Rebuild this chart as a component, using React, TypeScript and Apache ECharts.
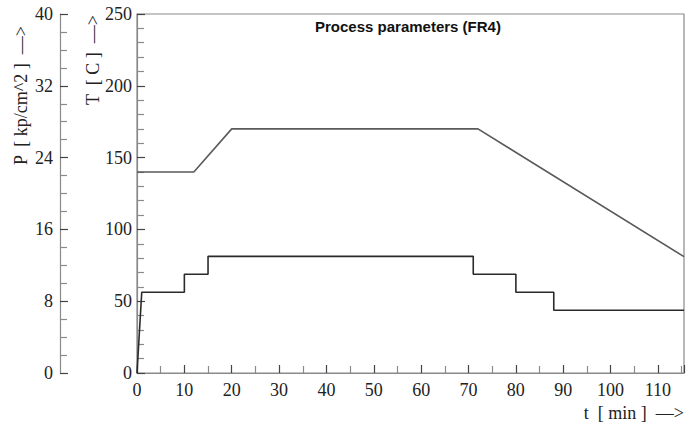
import React, { useEffect, useRef } from "react";
import * as echarts from "echarts";

// Temperature profile (T in C vs t in min)
const tempTime = [0, 12, 20, 72, 115.5];
const tempValues = [140, 140, 170, 170, 81];

// Pressure profile (P in kp/cm^2 vs t in min)
const presTime = [0, 1, 10, 10, 15, 15, 71, 71, 80, 80, 88, 88, 115.5];
const presValues = [0, 9, 9, 11, 11, 13, 13, 11, 11, 9, 9, 7, 7];

const xTickLabels = [0, 10, 20, 30, 40, 50, 60, 70, 80, 90, 100, 110];
const tempTickLabels = [0, 50, 100, 150, 200, 250];
const presTickLabels = [0, 8, 16, 24, 32, 40];

const title = "Process parameters (FR4)";
const xName = "t  [ min ]  \u2014>";
const tName = "T  [ C ]  \u2014>";
const pName = "P  [ kp/cm^2 ]  \u2014>";

const SERIF = "'Liberation Serif', 'DejaVu Serif', serif";
const SANS = "'Liberation Sans', Arial, sans-serif";

export default function App() {
  const ref = useRef<HTMLDivElement>(null);
  useEffect(() => {
    document.body.style.margin = "0";
    if (!ref.current) return;
    const chart = echarts.init(ref.current, undefined, { renderer: "svg" });
    const axisLine = { show: true, lineStyle: { color: "#8a8a8a", width: 1.2 } };
    const tick = { show: true, inside: true, length: 8, lineStyle: { color: "#444", width: 1.2 } };
    const minor = (n: number) => ({ show: true, splitNumber: n, length: 7, lineStyle: { color: "#8a8a8a", width: 1.2 } });
    const label = (set: number[]) => ({
      fontFamily: SERIF,
      fontSize: 18,
      color: "#222",
      formatter: (v: number) => (set.includes(v) ? String(v) : ""),
    });
    chart.setOption({
      animation: false,
      backgroundColor: "#fff",
      grid: {
        left: 137,
        top: 14,
        right: 8,
        bottom: 55,
        show: true,
        borderColor: "#8a8a8a",
        borderWidth: 1.2,
        backgroundColor: "transparent",
      },
      xAxis: {
        type: "value",
        min: 0,
        max: 115.5,
        interval: 10,
        axisLine,
        axisTick: tick,
        minorTick: minor(2),
        splitLine: { show: false },
        axisLabel: { ...label(xTickLabels), margin: 8, showMaxLabel: false },
      },
      yAxis: [
        {
          type: "value",
          position: "left",
          min: 0,
          max: 250,
          interval: 50,
          axisLine,
          axisTick: tick,
          minorTick: minor(5),
          splitLine: { show: false },
          axisLabel: { ...label(tempTickLabels), margin: 5 },
        },
        {
          type: "value",
          position: "left",
          offset: 77,
          min: 0,
          max: 40,
          interval: 8,
          axisLine,
          axisTick: tick,
          minorTick: minor(4),
          splitLine: { show: false },
          axisLabel: { ...label(presTickLabels), margin: 7 },
        },
      ],
      series: [
        {
          type: "line",
          name: "T",
          yAxisIndex: 0,
          data: tempTime.map((t, i) => [t, tempValues[i]]),
          showSymbol: false,
          lineStyle: { color: "#5a5a5a", width: 1.6 },
        },
        {
          type: "line",
          name: "P",
          yAxisIndex: 1,
          data: presTime.map((t, i) => [t, presValues[i]]),
          showSymbol: false,
          lineStyle: { color: "#2a2a2a", width: 1.6 },
        },
      ],
      graphic: [
        {
          type: "text",
          left: 315,
          top: 19,
          style: { text: title, font: `bold 15px ${SANS}`, fill: "#111" },
        },
        {
          type: "text",
          x: 684,
          y: 413,
          style: { text: xName, font: `18px ${SERIF}`, fill: "#222", align: "right", verticalAlign: "middle" },
        },
        {
          type: "text",
          x: 93,
          y: 105,
          rotation: Math.PI / 2,
          style: { text: tName, font: `18px ${SERIF}`, fill: "#222", align: "left", verticalAlign: "middle" },
        },
        {
          type: "text",
          x: 21,
          y: 165,
          rotation: Math.PI / 2,
          style: { text: pName, font: `18px ${SERIF}`, fill: "#222", align: "left", verticalAlign: "middle" },
        },
      ],
    });
    return () => chart.dispose();
  }, []);
  return <div ref={ref} style={{ width: 692, height: 428 }} />;
}
